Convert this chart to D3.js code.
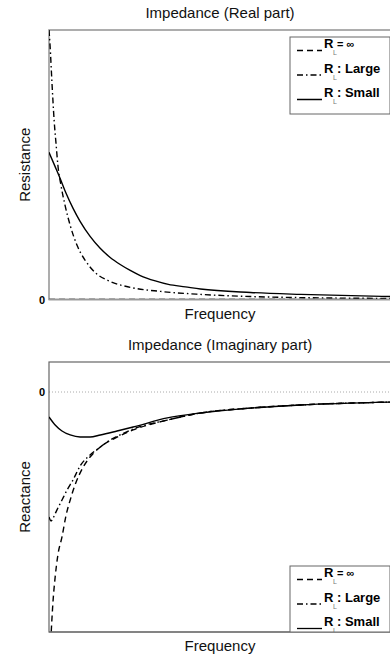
<!DOCTYPE html>
<html><head><meta charset="utf-8">
<script src="https://cdn.jsdelivr.net/npm/d3@7"></script>
<style>html,body{margin:0;padding:0;background:#fff;}svg{display:block;}</style>
</head><body>
<script>
// ---- Data (frequency in arbitrary units 0..100) ----
const seriesNames = ["R_L = ∞", "R_L : Large", "R_L : Small"];
// Real part (resistance)
const resInfF = [0, 100];
const resInfV = [0, 0];
const resLargeF = [0, 0.3, 0.9, 1.5, 2.1, 2.6, 3.5, 4.7, 6.2, 8.2, 10.6, 13.5, 17.9, 23.8, 32.6, 44.3, 58.9, 73.6, 100];
const resLargeV = [100, 94.4, 79.6, 66.5, 57.2, 49.8, 42.4, 34.9, 27.5, 20.1, 14.5, 10.0, 6.7, 4.5, 3.0, 1.9, 1.1, 0.7, 0.4];
const resSmallF = [0, 1.76, 3.23, 4.99, 7.04, 9.09, 12.02, 14.96, 17.89, 20.82, 23.75, 26.69, 31.09, 34.9, 39.88, 44.28, 58.94, 73.61, 100];
const resSmallV = [54.6, 49.4, 45.0, 39.4, 33.8, 29.0, 23.4, 19.0, 15.6, 13.0, 10.8, 8.9, 6.9, 5.6, 4.7, 3.9, 2.6, 1.9, 1.1];
// Imaginary part (reactance)
const reaInfF = [0.5, 1.2, 1.8, 2.6, 3.8, 5.0, 6.2, 7.6, 10.0, 12.0, 15.0, 19.9, 24.6, 34.6, 44.3, 58.9, 73.6, 100];
const reaInfV = [-104, -86.7, -77.1, -67.9, -60.4, -51.3, -45, -38.8, -31.3, -27.1, -22.9, -18.8, -15.8, -11.7, -8.75, -6.7, -5.4, -4.2];
const reaLargeF = [0, 0.6, 1.2, 2.3, 3.8, 5.3, 7.0, 9.1, 12.0, 15.0, 17.0, 20.8, 24.6, 34.6, 44.3, 58.9, 73.6, 100];
const reaLargeV = [-52.1, -53.75, -52.5, -49.2, -45, -40.8, -36.7, -30.8, -26.25, -22.9, -20.8, -17.9, -15.4, -11.7, -8.75, -6.7, -5.4, -4.2];
const reaSmallF = [0, 1.8, 3.8, 6.2, 9.1, 12.0, 15.0, 19.9, 24.6, 34.6, 44.3, 58.9, 73.6, 100];
const reaSmallV = [-10.4, -13.75, -16.25, -17.9, -18.75, -18.75, -17.9, -16.25, -14.6, -10.8, -8.75, -6.7, -5.4, -4.2];
const zeroTick = [0];

const W = 390, H = 655;
const svg = d3.select("body").append("svg").attr("width", W).attr("height", H)
  .style("font-family", "'Liberation Sans', Arial, Helvetica, sans-serif");

const dashes = ["6,4", "6,3,1.5,3", null];
const zip = (f, v) => f.map((d, i) => [d, v[i]]);

function panel(cfg) {
  const g = svg.append("g");
  const x = d3.scaleLinear().domain([0, 100]).range([49, 391]);
  const y = d3.scaleLinear().domain(cfg.yDomain).range([cfg.bottom, cfg.top]);
  const clipId = "clip" + cfg.id;
  svg.append("clipPath").attr("id", clipId).append("rect")
    .attr("x", 49).attr("y", cfg.top).attr("width", 342).attr("height", cfg.bottom - cfg.top);

  // title
  g.append("text").attr("x", 220).attr("y", cfg.top - 12).attr("text-anchor", "middle")
    .attr("font-size", 15).attr("fill", "#111").text(cfg.title);
  // x label
  g.append("text").attr("x", 220).attr("y", cfg.bottom + 19).attr("text-anchor", "middle")
    .attr("font-size", 15).attr("fill", "#111").text("Frequency");
  // y label
  g.append("text").attr("transform", `translate(30,${(cfg.top + cfg.bottom) / 2}) rotate(-90)`)
    .attr("text-anchor", "middle").attr("font-size", 15).attr("fill", "#111").text(cfg.ylabel);

  // zero tick via axis
  const ax = g.append("g").attr("transform", "translate(49,0)")
    .call(d3.axisLeft(y).tickValues(zeroTick).tickSize(0).tickPadding(4).tickFormat(d3.format("d")));
  ax.select(".domain").remove();
  ax.selectAll("text").attr("font-size", 11).attr("font-weight", "bold").attr("fill", "#000")
    .style("font-family", "'Liberation Sans', Arial, sans-serif");

  if (cfg.dotted) {
    g.append("line").attr("x1", 49).attr("x2", 391).attr("y1", y(0)).attr("y2", y(0))
      .attr("stroke", "#aaa").attr("stroke-width", 1).attr("stroke-dasharray", "1,2");
  }

  // frame
  g.append("rect").attr("x", 49).attr("y", cfg.top).attr("width", 345).attr("height", cfg.bottom - cfg.top)
    .attr("fill", "none").attr("stroke", cfg.frameColor).attr("stroke-width", cfg.frameWidth);

  const line = d3.line().x(d => x(d[0])).y(d => y(d[1])).curve(d3.curveMonotoneX);
  const lg = g.append("g").attr("clip-path", `url(#${clipId})`);
  cfg.series.forEach((s, i) => {
    lg.append("path").datum(s).attr("d", line).attr("fill", "none")
      .attr("stroke", "#000").attr("stroke-width", 1.4)
      .attr("stroke-dasharray", dashes[i]);
  });

  // legend
  const L = g.append("g").attr("clip-path", `url(#${clipId})`);
  const lx = 290, ly = cfg.legendTop;
  L.append("rect").attr("x", lx).attr("y", ly).attr("width", 100).attr("height", 77)
    .attr("fill", "#fff").attr("stroke", "#666").attr("stroke-width", 1);
  seriesNames.forEach((name, i) => {
    const base = ly + 11 + i * 24.5;
    L.append("line").attr("x1", 297).attr("x2", 322).attr("y1", base + 2.5).attr("y2", base + 2.5)
      .attr("stroke", "#000").attr("stroke-width", 1.3).attr("stroke-dasharray", dashes[i]);
    L.append("text").attr("x", 324).attr("y", base).attr("font-size", 13).attr("font-weight", "bold").text("R");
    L.append("text").attr("x", 333).attr("y", base + 7).attr("font-size", 7).attr("fill", "#777").text("L");
    const rest = name.split("R_L")[1];
    L.append("text").attr("x", 337).attr("y", base).attr("font-size", i === 0 ? 11 : 13)
      .attr("font-weight", "bold").text(rest.trim());
  });
  // redraw frame bottom over legend
  g.append("line").attr("x1", 49).attr("x2", 391).attr("y1", cfg.bottom).attr("y2", cfg.bottom)
    .attr("stroke", cfg.frameColor).attr("stroke-width", cfg.frameWidth);
}

panel({
  id: 1, title: "Impedance (Real part)", ylabel: "Resistance",
  top: 30, bottom: 299.5, yDomain: [0, 100], frameColor: "#999", frameWidth: 1.6,
  legendTop: 37, dotted: false,
  series: [zip(resInfF, resInfV), zip(resLargeF, resLargeV), zip(resSmallF, resSmallV)]
});
panel({
  id: 2, title: "Impedance (Imaginary part)", ylabel: "Reactance",
  top: 362, bottom: 632, yDomain: [-100, 12.5], frameColor: "#666", frameWidth: 1.2,
  legendTop: 566, dotted: true,
  series: [zip(reaInfF, reaInfV), zip(reaLargeF, reaLargeV), zip(reaSmallF, reaSmallV)]
});
</script>
</body></html>
